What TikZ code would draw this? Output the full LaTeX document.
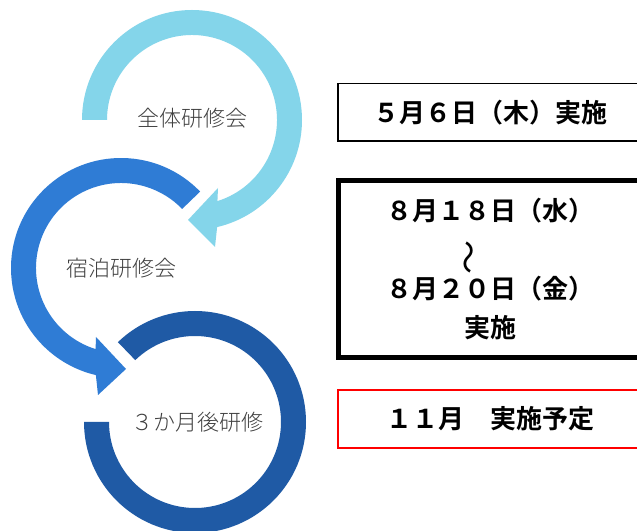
\documentclass[tikz,border=0pt]{standalone}
\usepackage{fontspec}
\usepackage{graphicx}
\usetikzlibrary{calc}
\setmainfont{Noto Sans CJK JP}[BoldFont={Noto Sans CJK JP Bold}]
\IfFontExistsTF{Noto Sans CJK JP Light}
  {\newfontfamily\ringfont{Noto Sans CJK JP Light}}
  {\newfontfamily\ringfont{Noto Sans CJK JP}}
\definecolor{ringlight}{HTML}{84D5EA}
\definecolor{ringmid}{HTML}{2F7CD5}
\definecolor{ringdark}{HTML}{1F5AA5}
\definecolor{labelgray}{HTML}{404040}
\tikzset{
  ringlabel/.style={font=\ringfont\fontsize{11pt}{13pt}\selectfont, text=labelgray, inner sep=0},
  datebox/.style={draw, fill=white, inner sep=0, minimum width=152pt, align=center,
    font=\bfseries\fontsize{13pt}{19.5pt}\selectfont},
}
\begin{document}
\begin{tikzpicture}[x=0.5pt, y=0.5pt]
    \clip (0,0) rectangle (637,530);
    \fill[white] (0,0) rectangle (637,530);
    \coordinate (c1) at (192,410);
    \coordinate (c2) at (121,262);
    \coordinate (c3) at (195,108);
    % rings
    \fill[ringdark] ($(c3)+(180:111)$) arc[start angle=180, end angle=494, radius=111]
      -- ($(c3)+(494:86)$) arc[start angle=494, end angle=180, radius=86] -- cycle;
    \fill[ringmid] ($(c2)+(44:110)$) arc[start angle=44, end angle=256.8, radius=110]
      -- (98,135) -- (126,161) -- (96,193)
      -- ($(c2)+(252.6:85)$) arc[start angle=252.6, end angle=44, radius=85] -- cycle;
    \fill[ringlight] ($(c1)+(180:110)$) arc[start angle=180, end angle=-76.8, radius=110]
      -- (215,283) -- (188,310) -- (218,342)
      -- ($(c1)+(-72.6:85)$) arc[start angle=-72.6, end angle=180, radius=85] -- cycle;
    \node[ringlabel] (zentai) at (192,412) {全体研修会};
    \node[ringlabel] (shukuhaku) at (c2) {宿泊研修会};
    \node[ringlabel] (sankagetsu) at (197,108) {３か月後研修};
    % dates
    \node[datebox, line width=0.75pt, minimum height=28.75pt] (may) at (490,417.5) {５月６日（木）実施};
    \node[datebox, line width=2.5pt, minimum height=88.5pt] (aug) at (490,261)
      {８月１８日（水）\\
       \raisebox{-7.6pt}{\rotatebox{90}{\mdseries\fontsize{17pt}{17pt}\selectfont 〜}}\kern17pt\\
       ８月２０日（金）\\ 実施};
    \node[datebox, draw=red, line width=1pt, minimum height=29pt] (nov) at (490,111) {１１月　実施予定};
\end{tikzpicture}
\end{document}
